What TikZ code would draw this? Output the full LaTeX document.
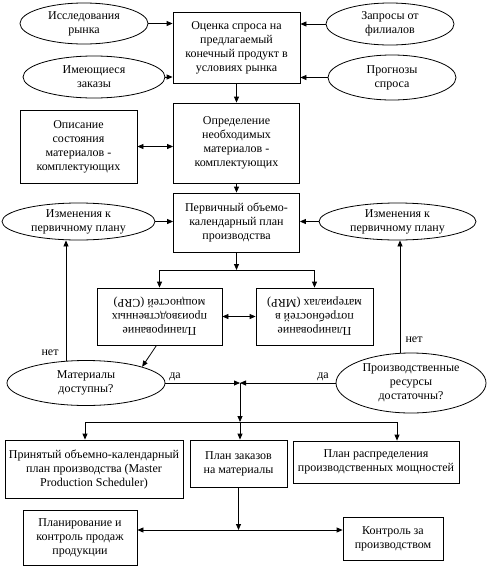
\documentclass[tikz,border=0pt]{standalone}
\usepackage{fontspec}
\setmainfont{Liberation Serif}
\usetikzlibrary{shapes.geometric,arrows.meta,calc}
\begin{document}
\begin{tikzpicture}[x=1pt,y=-1pt,
  every node/.style={font=\fontsize{12}{14}\selectfont},
  box/.style={draw, rectangle, inner sep=0pt, align=center, line width=0.8pt},
  oval/.style={draw, ellipse, inner sep=0pt, line width=0.8pt},
  tip/.tip={Triangle[length=6pt,width=5pt]},
  arr/.style={-tip, line width=0.8pt},
  dbl/.style={tip-tip, line width=0.8pt},
  ln/.style={line width=0.8pt}
]
\useasboundingbox (0,0) rectangle (492,568);

% top row
\node[oval, minimum width=128pt, minimum height=41pt,
  label={[align=center]center:{Исследования\\рынка}}] (r1) at (84,23.5) {};
\node[oval, minimum width=142pt, minimum height=42pt,
  label={[align=center]center:{Имеющиеся\\заказы}}] (r2) at (94,77) {};
\node[oval, minimum width=128pt, minimum height=42pt,
  label={[align=center]center:{Запросы от\\филиалов}}] (r3) at (390,24) {};
\node[oval, minimum width=128pt, minimum height=45pt,
  label={[align=center]center:{Прогнозы\\спроса}}] (r4) at (392,77.5) {};

\node[box, minimum width=127pt, minimum height=71pt] (t1) at (236.5,47.5)
  {Оценка спроса на\\предлагаемый\\конечный продукт в\\условиях рынка};
\node[box, minimum width=126pt, minimum height=80pt] (t2) at (236.5,143)
  {Определение\\необходимых\\материалов -\\комплектующих};
\node[box, minimum width=117pt, minimum height=73pt] (t3) at (78.5,146.5)
  {Описание\\состояния\\материалов -\\комплектующих};
\node[box, minimum width=126pt, minimum height=59pt] (t4) at (236.5,222.5)
  {Первичный объемо-\\календарный план\\производства};

\node[oval, minimum width=153pt, minimum height=37pt,
  label={[align=center]center:{Изменения к\\первичному плану}}] (c1) at (78.5,221.5) {};
\node[oval, minimum width=157pt, minimum height=37pt,
  label={[align=center]center:{Изменения к\\первичному плану}}] (c2) at (397.5,221.5) {};

\node[box, minimum width=125pt, minimum height=57pt,
  label={[align=center,rotate=180]center:{Планирование\\производственных\\мощностей (CRP)}}] (crp) at (159.5,316.5) {};
\node[box, minimum width=117pt, minimum height=57pt,
  label={[align=center,rotate=180]center:{Планирование\\потребностей в\\материалах (MRP)}}] (mrp) at (314.5,316.5) {};

\node[oval, minimum width=158pt, minimum height=45pt,
  label={[align=center]center:{Материалы\\доступны?}}] (m) at (86,383) {};
\node[oval, minimum width=150pt, minimum height=60pt,
  label={[align=center]center:{Производственные\\ресурсы\\достаточны?}}] (p) at (411,383) {};

\node[box, minimum width=178pt, minimum height=58pt] (mps) at (94,469)
  {Принятый объемно-календарный\\план производства (Master\\Production Scheduler)};
\node[box, minimum width=97pt, minimum height=47pt] (po) at (238.5,463.5)
  {План заказов\\на материалы};
\node[box, minimum width=166pt, minimum height=42pt] (pr) at (376,462)
  {План распределения\\производственных мощностей};
\node[box, minimum width=114pt, minimum height=55pt] (sales) at (80,537.5)
  {Планирование и\\контроль продаж\\продукции};
\node[box, minimum width=100pt, minimum height=43pt] (ctrl) at (393,538.5)
  {Контроль за\\производством};

% coordinates
\coordinate (j1) at (238,270);
\coordinate (j2) at (240,383);
\coordinate (j3) at (240,422);
\coordinate (j4) at (238.5,530);
\coordinate (mn) at (66,360.8);
\coordinate (pn) at (400,353.3);
\coordinate (a1) at (85,422);
\coordinate (a3) at (397,422);

% connectors
\draw[arr] (r1.east) -- (r1.east -| t1.west);
\draw[arr] (r2.east) -- (r2.east -| t1.west);
\draw[arr] (r3.west) -- (r3.west -| t1.east);
\draw[arr] (r4.west) -- (r4.west -| t1.east);
\draw[arr] (t1.south) -- (t2.north);
\draw[dbl] (t3.east) -- (t3.east -| t2.west);
\draw[arr] (t2.south) -- (t4.north);
\draw[arr] (c1.east) -- (c1.east -| t4.west);
\draw[arr] (c2.west) -- (c2.west -| t4.east);
\draw[arr] (t4.south) -- (t4.south |- j1);
\draw[ln] (j1 -| crp.north) -- (j1 -| mrp.north);
\draw[arr] (j1 -| crp.north) -- (crp.north);
\draw[arr] (j1 -| mrp.north) -- (mrp.north);
\draw[dbl] (crp.east) -- (mrp.west);
\draw[arr] ($(crp.south)+(-3,0)$) -- (m.north east);
\draw[arr] (mn) -- (mn |- c1.south);
\node (n1) at (50,353) {нет};
\draw[arr] (pn) -- (pn |- c2.south);
\node (n2) at (414,340) {нет};
\draw[arr] (m.east) -- (j2);
\draw[arr] (p.west) -- (j2);
\node (d1) at (175,377) {да};
\node (d2) at (323,377) {да};
\draw[arr] (j2) -- (j3);
\draw[ln] (a1) -- (a3);
\draw[arr] (a1) -- (a1 |- mps.north);
\draw[arr] (j3) -- (j3 |- po.north);
\draw[arr] (a3) -- (a3 |- pr.north);
\draw[arr] (po.south) -- (j4);
\draw[arr] (j4) -- (j4 -| sales.east);
\draw[arr] (j4) -- (j4 -| ctrl.west);
\end{tikzpicture}
\end{document}
